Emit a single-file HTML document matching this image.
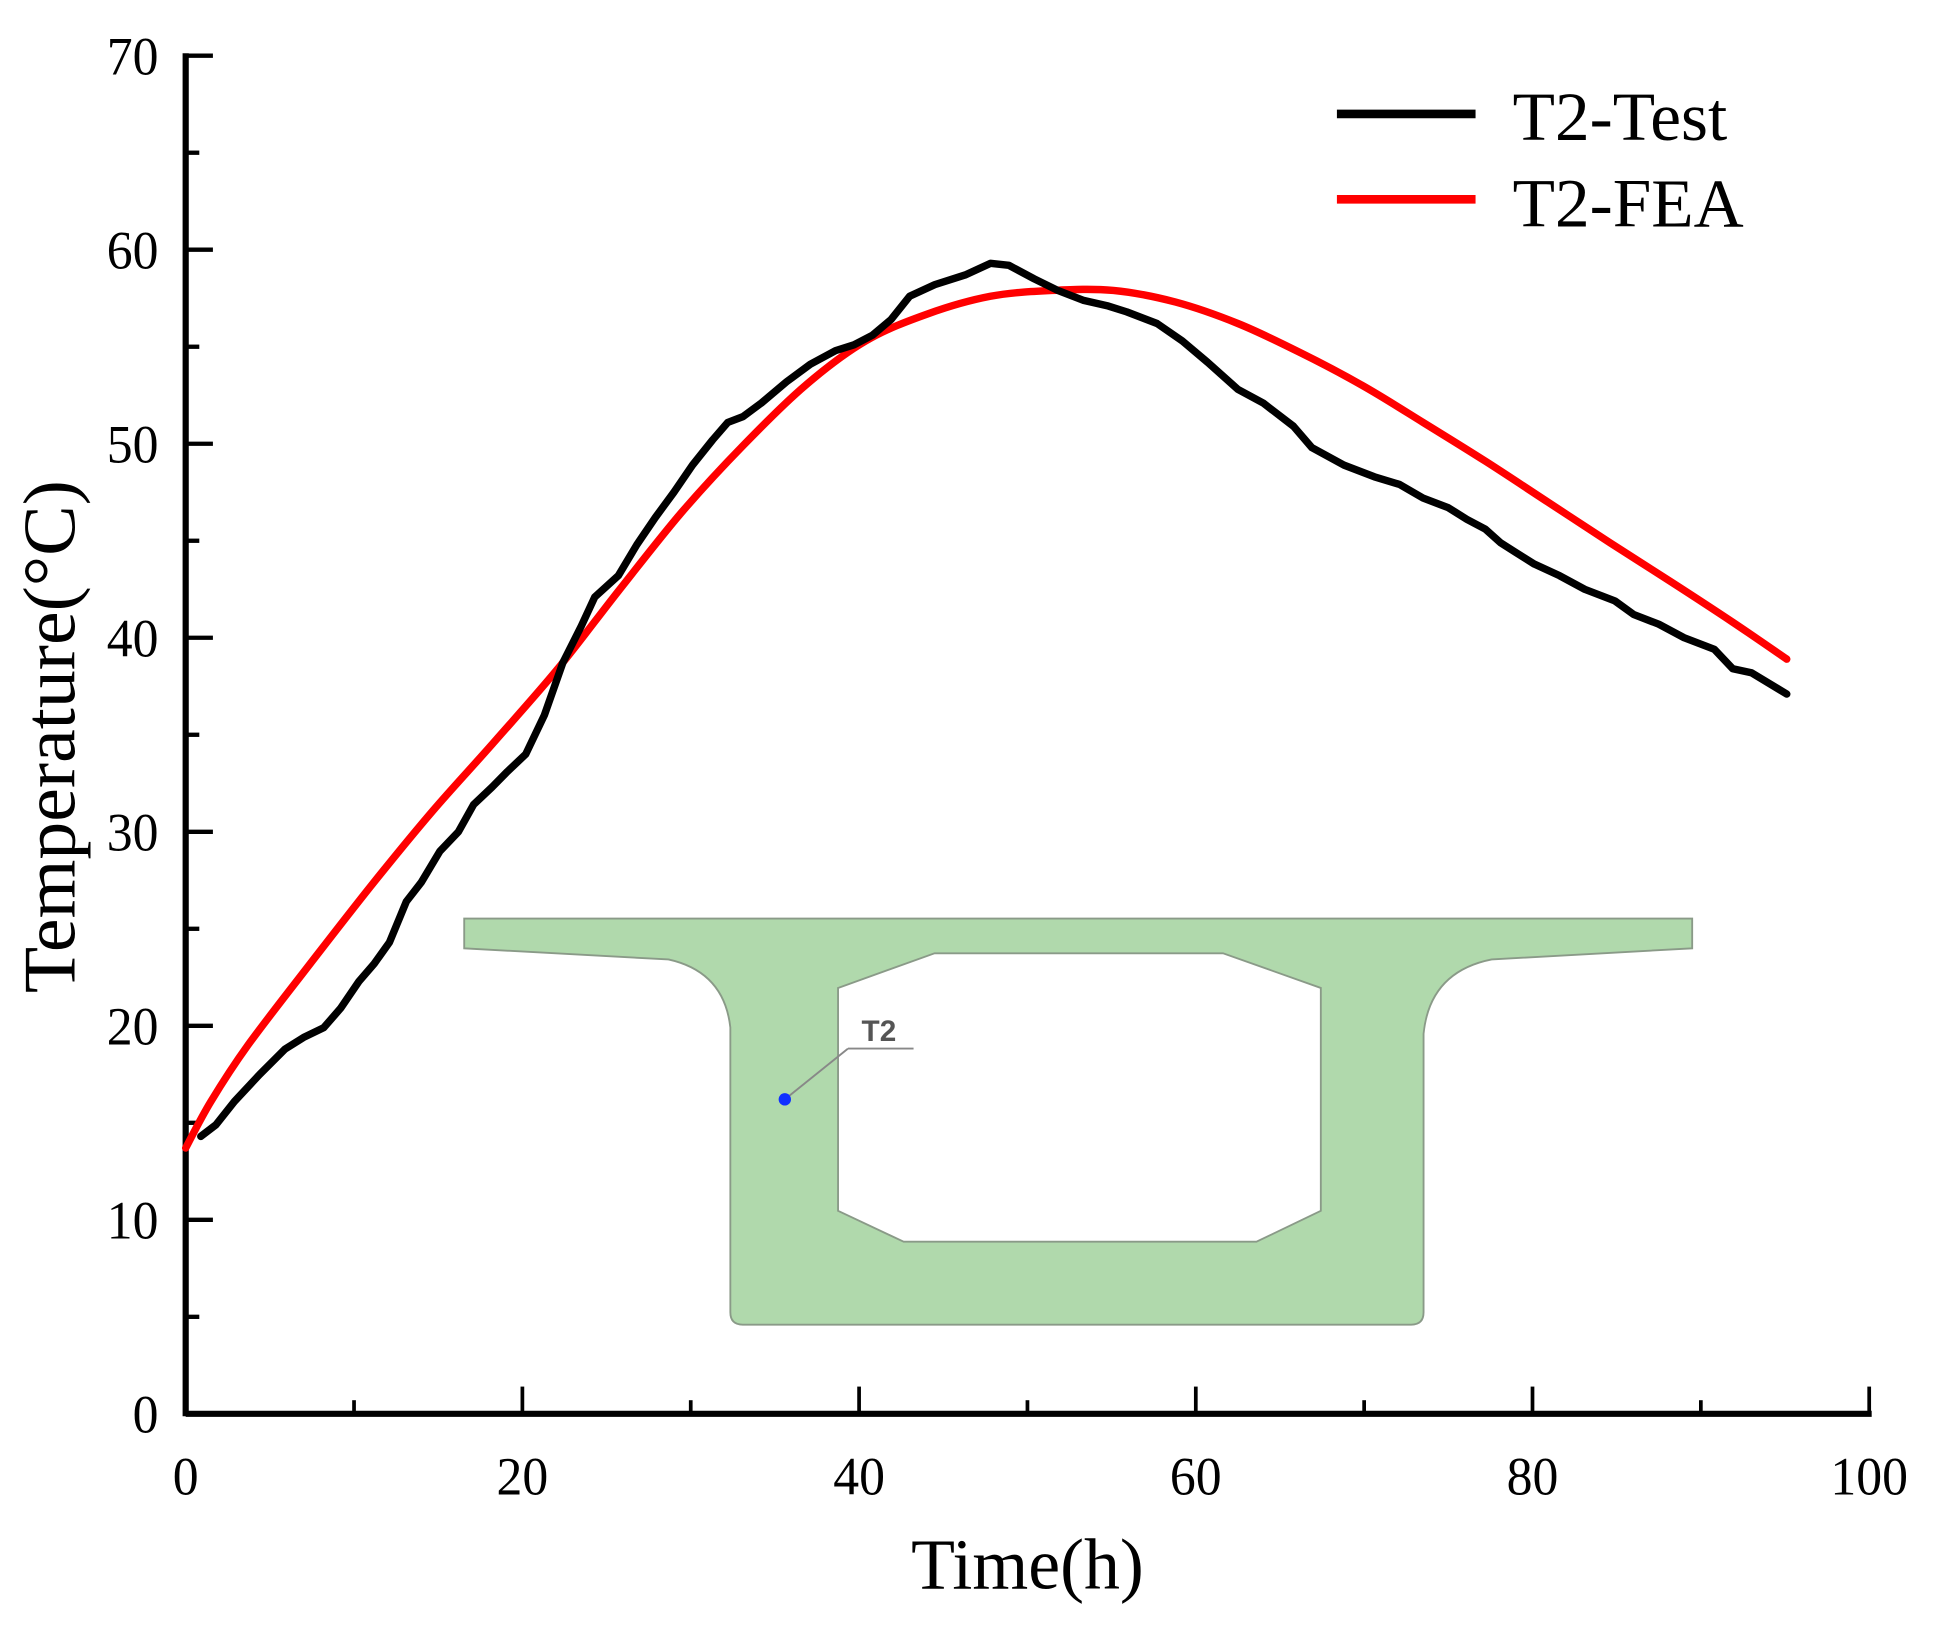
<!DOCTYPE html>
<html><head><meta charset="utf-8"><style>
html,body{margin:0;padding:0;background:#fff;}
svg{display:block;}
text{font-family:"Liberation Serif",serif;}
</style></head><body>
<svg id="chart" width="1941" height="1628" viewBox="0 0 1568 1315" preserveAspectRatio="none" xmlns="http://www.w3.org/2000/svg">
<g id="inset">
<path d="M375,742 L1367,742 L1367,766 L1205,775 Q1155,785 1150,835 L1150,1060 Q1150,1070 1140,1070 L600,1070 Q590,1070 590,1060 L590,830 Q585,785 540,775 L375,766 Z M677,798 L755,770 L988,770 L1067,798 L1067,978 L1015,1003 L730,1003 L677,978 Z" fill="#b0d9ac" fill-rule="evenodd" stroke="#8a9a88" stroke-width="1.5"/>
<line x1="634" y1="888" x2="685" y2="847" stroke="#888" stroke-width="1.5"/>
<line x1="685" y1="847" x2="738" y2="847" stroke="#888" stroke-width="1.5"/>
<circle cx="634" cy="888" r="5" fill="#1030ff"/>
<text x="696" y="841" style="font-family:'Liberation Sans',sans-serif" font-weight="bold" font-size="24" fill="#555">T2</text>
</g>
<g id="axes"></g>
<g id="series"></g>
<g>
<line x1="1080" y1="92" x2="1192" y2="92" stroke="#000" stroke-width="7"/>
<text x="1222" y="113" font-size="56" transform="translate(1222 0) scale(1.0 1) translate(-1222 0)">T2-Test</text>
<line x1="1080" y1="161" x2="1192" y2="161" stroke="#ff0000" stroke-width="7"/>
<text x="1222" y="183" font-size="56" transform="translate(1222 0) scale(1.0 1) translate(-1222 0)">T2-FEA</text>
</g>
<text x="830" y="1283" font-size="58" text-anchor="middle" transform="translate(830 0) scale(1.0 1) translate(-830 0)">Time(h)</text>
<text x="0" y="0" font-size="60" text-anchor="middle" transform="translate(60 595) rotate(-90) scale(1.02 1)">Temperature(°C)</text>
</svg>
<script>
const xTicks=[0,20,40,60,80,100];
const yTicks=[0,10,20,30,40,50,60,70];
const testTime=[0.9,1.8,2.9,4.4,5.9,7,8.2,9.2,10.3,11.2,12.1,13.1,14,15.1,16.2,17.1,18.2,19.1,20.2,21.3,22.4,23.5,24.3,25.7,26.8,27.9,29,30.1,31.3,32.2,33.1,34.2,35.7,37.1,38.6,39.7,40.8,41.9,43,44.5,46.3,47.8,48.9,50.4,51.8,53.3,54.8,55.9,57.7,59.2,60.7,62.5,64,65.8,66.9,68.8,70.6,72.1,73.5,75,76.1,77.2,78.1,79,80.1,81.6,83.1,84.9,86,87.5,89,90.8,91.9,93,95.1];
const testTemp=[14.3,14.9,16.1,17.5,18.8,19.4,19.9,20.9,22.3,23.2,24.3,26.4,27.4,29,30,31.4,32.3,33.1,34,36,38.7,40.6,42.1,43.2,44.8,46.2,47.5,48.9,50.2,51.1,51.4,52.1,53.2,54.1,54.8,55.1,55.6,56.4,57.6,58.2,58.7,59.3,59.2,58.5,57.9,57.4,57.1,56.8,56.2,55.3,54.2,52.8,52.1,50.9,49.8,48.9,48.3,47.9,47.2,46.7,46.1,45.6,44.9,44.4,43.8,43.2,42.5,41.9,41.2,40.7,40,39.4,38.4,38.2,37.1];
const feaTime=[0,1.5,3.7,7.4,11,14.7,18.4,22.1,25.7,29.4,33.1,36.8,40.4,44.1,47.8,51.5,55.1,58.8,62.5,66.2,69.9,73.5,77.2,80.9,84.6,88.2,91.9,95.1];
const feaTemp=[13.7,16.1,19,23.2,27.2,31.1,34.7,38.4,42.4,46.4,49.9,53,55.3,56.7,57.6,57.9,57.9,57.3,56.2,54.7,53,51.1,49.1,47,44.9,42.9,40.8,38.9];

const NS='http://www.w3.org/2000/svg';
const X0=150,X1=1510,Y0=1142,Y1=45;
function xs(v){return X0+(v-0)/(100-0)*(X1-X0);}
function ys(v){return Y0-(v-0)/(70-0)*(Y0-Y1);}
function mk(tag,attrs,parent){const e=document.createElementNS(NS,tag);for(const k in attrs)e.setAttribute(k,attrs[k]);parent.appendChild(e);return e;}
const axes=document.getElementById('axes');
let e;
e=mk('line',{x1:X0,y1:Y0,x2:X1+2,y2:Y0,stroke:'#000','stroke-width':5},axes);


e=mk('line',{x1:X0,y1:Y0+2,x2:X0,y2:Y1-2,stroke:'#000','stroke-width':5},axes);


for(let v=0;v<=100;v+=10){
  const major=v%20===0;
  e=mk('line',{x1:xs(v),y1:Y0,x2:xs(v),y2:Y0-(major?22:11),stroke:'#000','stroke-width':3},axes);
  
  
}
xTicks.forEach(v=>{
  const t=mk('text',{x:xs(v),y:1207,'font-size':44,'text-anchor':'middle',transform:`translate(${xs(v)} 0) scale(0.95 1) translate(${-xs(v)} 0)`},axes);
  t.textContent=v;
  
  
});
for(let v=0;v<=70;v+=5){
  const major=v%10===0;
  e=mk('line',{x1:X0,y1:ys(v),x2:X0+(major?22:11),y2:ys(v),stroke:'#000','stroke-width':3.5},axes);
  
  
}
yTicks.forEach(v=>{
  const t=mk('text',{x:128,y:ys(v)+15,'font-size':44,'text-anchor':'end',transform:`translate(128 0) scale(0.95 1) translate(-128 0)`},axes);
  t.textContent=v;
  
  
});
const series=document.getElementById('series');
function path(tx,ty){return tx.map((t,i)=>(i?'L':'M')+xs(t).toFixed(1)+','+ys(ty[i]).toFixed(1)).join(' ');}
function smooth(tx,ty){
  const p=tx.map((t,i)=>[xs(t),ys(ty[i])]);
  let d='M'+p[0][0].toFixed(1)+','+p[0][1].toFixed(1);
  for(let i=0;i<p.length-1;i++){
    const p0=p[i-1]||p[i],p1=p[i],p2=p[i+1],p3=p[i+2]||p2;
    const c1=[p1[0]+(p2[0]-p0[0])/6,p1[1]+(p2[1]-p0[1])/6];
    const c2=[p2[0]-(p3[0]-p1[0])/6,p2[1]-(p3[1]-p1[1])/6];
    d+=` C${c1[0].toFixed(1)},${c1[1].toFixed(1)} ${c2[0].toFixed(1)},${c2[1].toFixed(1)} ${p2[0].toFixed(1)},${p2[1].toFixed(1)}`;
  }
  return d;
}
e=mk('path',{d:smooth(feaTime,feaTemp),fill:'none',stroke:'#ff0000','stroke-width':6,'stroke-linejoin':'round','stroke-linecap':'round'},series);


e=mk('path',{d:path(testTime,testTemp),fill:'none',stroke:'#000','stroke-width':6,'stroke-linejoin':'round','stroke-linecap':'round'},series);


</script>
</body></html>
